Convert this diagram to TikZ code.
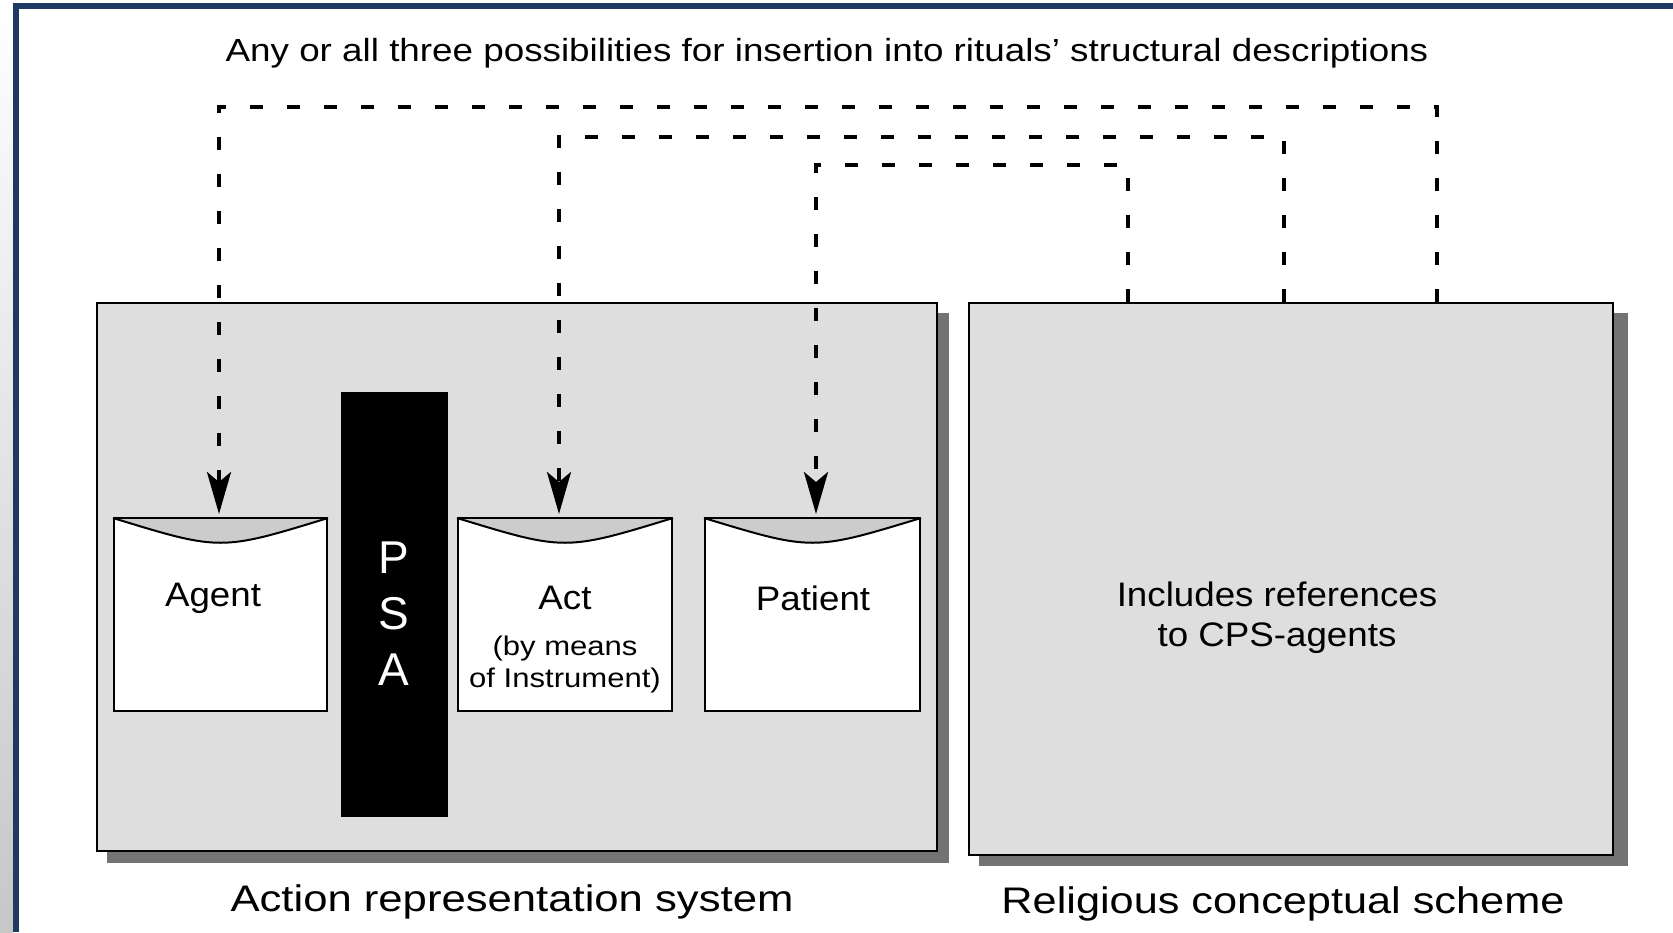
\documentclass[tikz,border=0pt]{standalone}
\usepackage{fontspec}
\usepackage{graphicx}
\setmainfont{Liberation Sans}
\usetikzlibrary{arrows.meta,calc}
\definecolor{navy}{HTML}{1F3864}
\definecolor{stip}{gray}{0.87}
\definecolor{lens}{gray}{0.80}
\newcommand{\hs}[2]{\scalebox{#1}[1]{#2}}
\tikzset{
  bigbox/.style={draw=black,line width=2.5pt,fill=stip,rectangle,inner sep=0pt},
  slip/.style={draw=black,line width=2pt,fill=white,rectangle,inner sep=0pt,minimum height=192pt},
  shadowbox/.style={fill=black!55,draw=none},
  ins/.style={line width=4pt,dash pattern=on 13pt off 24pt,-{Stealth[width=24pt,length=42pt,inset=10pt]},shorten >=4pt},
  lbl/.style={font=\fontsize{34}{40}\selectfont,align=center},
  small/.style={font=\fontsize{27}{32}\selectfont,align=center},
  bottom/.style={font=\fontsize{37}{44}\selectfont},
}
\begin{document}
\begin{tikzpicture}[x=1pt,y=-1pt]
\useasboundingbox (0,0) rectangle (1673,932);
\fill[white] (0,0) rectangle (1673,932);
\shade[top color=white,bottom color=black!22] (0,0) rectangle (13,932);
\draw[line width=6pt,navy] (15.5,932) -- (15.5,6) -- (1673,6);

% title
\node[font=\fontsize{32}{38}\selectfont] (title) at (827,53) {\hs{1.15}{Any or all three possibilities for insertion into rituals' structural descriptions}};

% shadows
\fill[shadowbox] (937,313) rectangle (949,863);
\fill[shadowbox] (107,851) rectangle (949,863);
\fill[shadowbox] (1613,313) rectangle (1628,866);
\fill[shadowbox] (979,855) rectangle (1628,866);

% big boxes
\node[bigbox,minimum width=840pt,minimum height=548pt] (ars) at (517,577) {};
\node[bigbox,minimum width=644pt,minimum height=552pt] (rcs) at (1291,579) {};

% PSA bar
\node[fill=black,draw=black,minimum width=106pt,minimum height=424pt,inner sep=0pt] (psa) at (394,604) {};
\node[text=white,font=\fontsize{46}{56}\selectfont,align=center] (psat) at (394,614) {P\\S\\A};

% slips
\node[slip,minimum width=213pt] (agent) at (220.5,615) {};
\node[slip,minimum width=214pt] (act) at (565,615) {};
\node[slip,minimum width=215pt] (patient) at (812.5,615) {};
\foreach \n in {agent,act,patient}{
  \coordinate (\n-cp) at ($(\n.north)+(0,33)$);
  \fill[lens] (\n.north west) .. controls (\n-cp) .. (\n.north east) -- cycle;
  \draw[line width=2pt] (\n.north west) .. controls (\n-cp) .. (\n.north east);
  \draw[line width=2pt] (\n.north west) -- (\n.north east);
}

% slip texts
\node[lbl] (agentt) at (213,598) {\hs{1.08}{Agent}};
\node[lbl] (actt) at (565,598) {\hs{1.08}{Act}};
\node[small] (actsub) at (565,665) {\hs{1.15}{(by means}\\\hs{1.15}{of Instrument)}};
\node[lbl] (patientt) at (813,598) {\hs{1.08}{Patient}};
\node[lbl] (rcst) at (1277,618) {\hs{1.08}{Includes references}\\\hs{1.08}{to CPS-agents}};

% bottom labels
\node[bottom] (arsl) at (512,902) {\hs{1.18}{Action representation system}};
\node[bottom] (rcsl) at (1283,904) {\hs{1.17}{Religious conceptual scheme}};

% insertion connectors
\coordinate (o1) at (219,107);
\coordinate (o2) at (1437,107);
\coordinate (m1) at (559,137);
\coordinate (m2) at (1284,137);
\coordinate (i1) at (816,165);
\coordinate (i2) at (1128,165);
\draw[ins] (o2 |- rcs.north) -- (o2) -- (o1) -- (o1 |- agent.north);
\draw[ins] (m2 |- rcs.north) -- (m2) -- (m1) -- (m1 |- act.north);
\draw[ins] (i2 |- rcs.north) -- (i2) -- (i1) -- (i1 |- patient.north);
\end{tikzpicture}
\end{document}
